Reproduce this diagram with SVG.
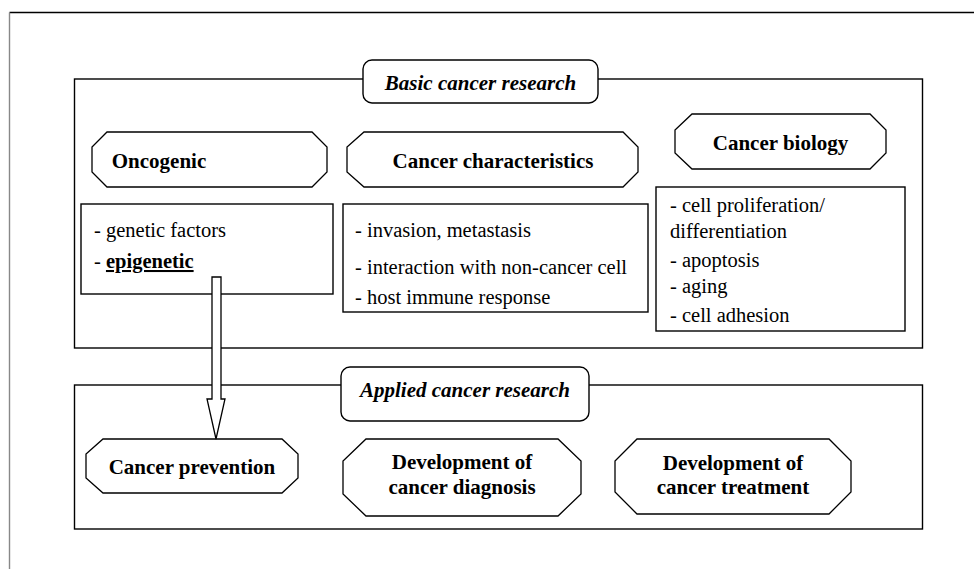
<svg xmlns="http://www.w3.org/2000/svg" width="974" height="569" viewBox="0 0 974 569">
  <style>
    .frame { fill: none; stroke: #000; stroke-width: 1.4; }
    .edge { fill: none; stroke: #888; stroke-width: 1.4; }
    .box { fill: #fff; stroke: #000; stroke-width: 1.4; }
    .oct { fill: #fff; stroke: #000; stroke-width: 1.3; }
    text { font-family: 'Liberation Serif', 'DejaVu Serif', serif; fill: #000; }
    .head { font-size: 21px; font-weight: bold; text-anchor: middle; }
    .title { font-size: 21px; font-weight: bold; font-style: italic; text-anchor: middle; }
    .item { font-size: 20.5px; }
    .arrow { fill: #fff; stroke: #000; stroke-width: 1.3; }
  </style>

  <rect width="974" height="569" fill="#fff"/>

  <!-- page border -->
  <line class="frame" x1="9.5" y1="12.5" x2="974" y2="12.5"/>
  <line class="edge" x1="9.5" y1="12.5" x2="9.5" y2="569"/>

  <!-- Basic cancer research panel -->
  <g id="basic">
    <rect class="frame" x="74.5" y="79" width="848" height="269"/>
    <rect class="box" x="363" y="60" width="235" height="43" rx="9"/>
    <text class="title" x="480.5" y="90">Basic cancer research</text>
  </g>

  <g id="oncogenic">
    <polygon class="oct" points="107,132 312,132 327,147 327,172 312,187 107,187 92,172 92,147"/>
    <text class="head" x="159" y="168">Oncogenic</text>
  </g>

  <g id="oncogenic-list">
    <rect class="box" x="81" y="204" width="252" height="90"/>
    <text class="item" x="94" y="237">- genetic factors</text>
    <text class="item" x="94" y="268">- <tspan font-weight="bold" text-decoration="underline">epigenetic</tspan></text>
  </g>

  <g id="characteristics">
    <polygon class="oct" points="364,132 623,132 638,147 638,172 623,187 364,187 347,172 347,147"/>
    <text class="head" x="493" y="168">Cancer characteristics</text>
  </g>

  <g id="characteristics-list">
    <rect class="box" x="343" y="204" width="305" height="108"/>
    <text class="item" x="355" y="237">- invasion, metastasis</text>
    <text class="item" x="355" y="274">- interaction with non-cancer cell</text>
    <text class="item" x="355" y="304">- host immune response</text>
  </g>

  <g id="biology">
    <polygon class="oct" points="692,114 870,114 886,130 886,153 870,169 692,169 675,153 675,130"/>
    <text class="head" x="780.5" y="150">Cancer biology</text>
  </g>

  <g id="biology-list">
    <rect class="box" x="656" y="187" width="249" height="144"/>
    <text class="item" x="670" y="212">- cell proliferation/</text>
    <text class="item" x="670" y="238">differentiation</text>
    <text class="item" x="670" y="267">- apoptosis</text>
    <text class="item" x="670" y="293">- aging</text>
    <text class="item" x="670" y="322">- cell adhesion</text>
  </g>

  <!-- Applied cancer research panel -->
  <g id="applied">
    <rect class="frame" x="74.5" y="385" width="848" height="144"/>
    <rect class="box" x="341" y="367" width="248" height="54" rx="9"/>
    <text class="title" x="465" y="397">Applied cancer research</text>
  </g>

  <g id="prevention">
    <polygon class="oct" points="103,439 282,439 298,454 298,478 282,493 103,493 86,478 86,454"/>
    <text class="head" x="192" y="474">Cancer prevention</text>
  </g>

  <g id="diagnosis">
    <polygon class="oct" points="366,439 558,439 581,461 581,494 558,516 366,516 343,494 343,461"/>
    <text class="head" x="462" y="469">Development of</text>
    <text class="head" x="462" y="494">cancer diagnosis</text>
  </g>

  <g id="treatment">
    <polygon class="oct" points="637,439 829,439 851,461 851,492 829,514 637,514 615,492 615,461"/>
    <text class="head" x="733" y="470">Development of</text>
    <text class="head" x="733" y="494">cancer treatment</text>
  </g>

  <!-- connectors -->
  <g id="connectors">
    <polygon class="arrow" points="212,277 221,277 221,399 225,399 216,439 207,399 212,399"/>
  </g>
</svg>
